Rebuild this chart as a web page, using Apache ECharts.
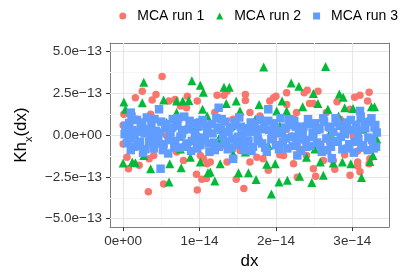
<!DOCTYPE html>
<html>
<head>
<meta charset="utf-8">
<script src="https://cdn.jsdelivr.net/npm/echarts@6/dist/echarts.min.js"></script>
<style>
html, body { margin: 0; padding: 0; background: #fff; }
#chart { width: 419px; height: 275px; }
</style>
</head>
<body>
<div id="chart"></div>
<script>
// dx in units of 1e-14, Kh_x(dx) in units of 1e-13
var seriesNames = ['MCA run 1', 'MCA run 2', 'MCA run 3'];
var seriesColors = ['#F8766D', '#00BA38', '#619CFF'];

var xTickValues = [0, 1, 2, 3];
var xTickLabels = ['0e+00', '1e\u221214', '2e\u221214', '3e\u221214'];
var xMinorValues = [0.5, 1.5, 2.5];
var yTickValues = [-5, -2.5, 0, 2.5, 5];
var yTickLabels = ['\u22125.0e\u221213', '\u22122.5e\u221213', '0.0e+00', '2.5e\u221213', '5.0e\u221213'];
var yMinorValues = [-3.75, -1.25, 1.25, 3.75];

var run1 = [
  [0.51, 3.50], [0.25, 2.62], [0.16, 2.23], [0.43, 2.42], [0.38, 2.09], [0.33, -3.39], [0.53, -2.93],
  [0.97, -3.29], [0.96, -2.34], [1.03, -2.64], [1.09, -2.60], [1.23, 2.38], [1.32, 2.38], [1.36, 2.62],
  [0.84, 2.32], [1.48, -2.64], [1.58, -3.19], [1.60, 2.07], [1.60, 2.42], [1.90, -2.11], [1.97, 2.23],
  [2.00, 2.32], [1.92, 2.03], [2.14, 2.52], [2.37, 2.52], [2.41, 2.68], [2.55, 2.62], [2.28, -2.52],
  [2.52, -2.46], [2.49, -2.01], [2.77, -2.05], [2.97, -2.40], [3.10, -2.20], [3.07, -1.85], [3.07, -1.61],
  [3.03, 2.26], [3.10, 2.38], [3.22, 2.56], [3.20, 2.03], [3.22, -1.71], [3.23, -1.42], [0.01, 1.24],
  [0.00, 0.59], [0.00, -0.53], [0.05, -1.32], [0.07, -2.01], [0.21, -1.81], [0.40, -1.22], [0.34, -1.42],
  [2.44, 1.89], [2.49, 1.89], [2.80, 1.99], [2.97, 1.54], [2.31, -0.83], [2.40, -1.22], [2.75, -1.52],
  [2.90, -1.18], [2.10, -1.22], [2.05, -1.18], [1.83, -1.42], [1.75, -1.32], [1.14, -1.61], [1.10, -1.71],
  [1.05, -1.42], [1.01, -1.22], [0.60, 2.03], [0.68, 2.13], [0.75, 1.73], [0.83, 1.63], [0.10, 0.35],
  [0.18, 0.95], [0.57, -0.04], [0.70, 0.55], [0.88, -0.43], [1.14, 0.65], [1.27, -0.73], [1.44, 0.95],
  [1.57, -0.63], [1.68, 0.35], [1.79, 1.14], [1.97, -0.24], [2.14, 0.35], [2.23, 0.98], [2.36, -0.24],
  [2.53, 0.55], [2.70, -0.43], [2.84, 0.95], [3.01, -0.04], [3.18, 0.75], [3.27, -0.63], [0.36, 1.24],
  [1.20, 1.34], [1.66, 1.34], [2.27, 1.34], [2.66, 1.34], [0.79, -1.52], [1.36, -1.61], [1.66, -1.61],
  [2.23, -1.71], [2.62, -1.52], [0.70, -1.02], [1.53, -0.93], [3.07, -0.96], [2.14, 1.83], [0.97, 2.03]
];

var run2 = [
  [1.84, 4.06], [2.65, 4.09], [1.94, -3.52], [0.27, 3.15], [0.90, 3.25], [1.01, 2.97], [1.05, 2.56],
  [1.32, 2.85], [1.39, 2.85], [2.20, 3.11], [2.30, 2.91], [2.49, 2.48], [2.83, 2.46], [2.88, 2.26],
  [0.60, -2.80], [2.04, -2.80], [2.15, -2.70], [2.47, -2.84], [3.12, -2.54], [1.74, -2.66], [1.20, -2.74],
  [1.11, -2.25], [1.14, -2.21], [1.51, -2.26], [1.64, -2.25], [2.31, -2.46], [2.62, -2.40], [0.00, -1.67],
  [0.12, -1.61], [0.16, -1.65], [0.36, -2.01], [0.76, -1.95], [0.61, -1.71], [1.01, -1.61], [1.27, -1.71],
  [1.88, -1.75], [1.99, -1.71], [2.58, -1.61], [2.75, -1.67], [2.87, -1.61], [2.98, -1.71], [3.23, -1.58],
  [3.27, -1.22], [0.01, 1.97], [0.03, 1.54], [0.25, 1.93], [0.53, 2.09], [0.70, 2.03], [0.78, 2.03],
  [0.86, 2.07], [1.04, 1.54], [1.35, 1.89], [1.48, 2.03], [1.78, 1.83], [2.01, 1.44], [2.08, 2.03],
  [2.35, 1.69], [2.55, 1.89], [2.68, 1.54], [2.90, 1.63], [3.01, 1.58], [3.25, 1.69], [3.29, 1.69],
  [0.14, 0.95], [0.23, 0.35], [0.40, -0.43], [0.57, 0.75], [0.75, -0.83], [0.94, 0.35], [1.10, 1.14],
  [1.25, -0.24], [1.42, 0.55], [1.60, -1.02], [1.73, 0.95], [1.90, -0.63], [2.05, 0.55], [2.21, -0.04],
  [2.40, 0.85], [2.51, -0.83], [2.71, 0.16], [2.82, 1.14], [2.95, -0.53], [3.14, 0.35], [3.32, -0.24],
  [0.27, -1.22], [0.88, -1.32], [1.44, -1.12], [2.40, -1.32], [2.14, 1.44], [1.53, 1.44], [0.70, 1.34],
  [3.10, 1.04], [1.79, -0.24], [1.36, -0.43]
];

var run3 = [
  [0.47, 1.54], [0.49, -2.01], [1.25, 1.63], [1.90, 1.54], [1.44, -1.42], [2.28, -1.22], [2.73, -1.38],
  [3.10, 1.44], [0.10, 1.34],
  [0.02, 0.05], [0.05, -0.48], [0.08, 0.72], [0.10, -0.90], [0.12, 0.30], [0.15, -0.20], [0.18, 0.90],
  [0.20, -0.65], [0.23, 0.45], [0.26, -1.05], [0.28, 0.10], [0.31, 1.05], [0.34, -0.40], [0.37, 0.60],
  [0.40, -0.80], [0.43, 0.25], [0.46, -0.15], [0.50, 0.80], [0.53, -0.55], [0.56, 0.40], [0.59, -1.10],
  [0.62, 0.15], [0.65, 0.95], [0.68, -0.35], [0.71, 0.55], [0.74, -0.75], [0.77, 0.05], [0.80, 1.10],
  [0.83, -0.50], [0.86, 0.35], [0.89, -0.95], [0.92, 0.70], [0.95, -0.10], [0.98, 0.50], [1.01, -0.60],
  [1.04, 0.90], [1.07, -0.30], [1.10, 0.20], [1.13, -1.00], [1.16, 0.65], [1.19, -0.45], [1.22, 1.00],
  [1.25, -0.70], [1.28, 0.30], [1.31, -0.05], [1.34, 0.80], [1.37, -0.85], [1.40, 0.45], [1.43, -0.25],
  [1.46, 0.60], [1.49, -0.60], [1.52, 1.05], [1.55, 0.00], [1.58, -0.90], [1.61, 0.40], [1.64, -0.35],
  [1.67, 0.75], [1.70, -0.70], [1.73, 0.20], [1.76, -0.15], [1.79, 0.90], [1.82, -0.50], [1.85, 0.50],
  [1.88, -1.00], [1.91, 0.30], [1.94, -0.25], [1.97, 0.70], [2.00, -0.60], [2.03, 0.10], [2.06, 1.00],
  [2.09, -0.40], [2.12, 0.45], [2.15, -0.80], [2.18, 0.60], [2.21, -0.10], [2.24, 0.85], [2.27, -0.55],
  [2.30, 0.25], [2.33, -0.95], [2.36, 0.50], [2.39, -0.30], [2.42, 0.95], [2.45, -0.65], [2.48, 0.15],
  [2.51, 0.70], [2.54, -0.45], [2.57, 0.35], [2.60, -1.00], [2.63, 0.80], [2.66, -0.20], [2.69, 0.50],
  [2.72, -0.70], [2.75, 0.20], [2.78, 1.00], [2.81, -0.40], [2.84, 0.55], [2.87, -0.85], [2.90, 0.05],
  [2.93, 0.75], [2.96, -0.55], [2.99, 0.30], [3.02, -1.05], [3.05, 0.60], [3.08, -0.25], [3.11, 1.10],
  [3.14, -0.60], [3.17, 0.40], [3.20, -0.90], [3.23, 0.80], [3.26, -0.30], [3.29, 0.45], [3.31, -0.70],
  [3.32, 0.15],
  [0.03, 0.55], [0.07, -0.15], [0.11, 1.10], [0.14, -0.70], [0.19, 0.20], [0.22, -0.40], [0.25, 0.75],
  [0.29, -0.85], [0.33, 0.35], [0.36, -0.05], [0.41, 0.95], [0.44, -0.50], [0.48, 0.15], [0.52, -0.90],
  [0.55, 0.65], [0.60, -0.30], [0.64, 0.45], [0.67, -0.75], [0.72, 1.00], [0.75, -0.10], [0.79, 0.30],
  [0.82, -0.70], [0.87, 0.85], [0.90, -0.35], [0.94, 0.10], [0.97, -0.80], [1.00, 0.75], [1.05, -0.15],
  [1.09, 0.55], [1.12, -0.50], [1.17, 0.10], [1.20, -0.90], [1.24, 0.45], [1.29, 0.95], [1.33, -0.40],
  [1.38, 0.20], [1.42, -0.75], [1.47, 0.80], [1.50, -0.10], [1.54, 0.50], [1.59, -0.45], [1.63, 0.15],
  [1.68, -0.95], [1.72, 0.65], [1.77, -0.35], [1.81, 0.35], [1.86, -0.75], [1.90, 0.85], [1.95, -0.05],
  [1.99, 0.45], [2.04, -0.85], [2.08, 0.25], [2.13, -0.20], [2.17, 0.95], [2.22, -0.65], [2.26, 0.50],
  [2.31, -0.25], [2.35, 0.10], [2.40, -0.70], [2.44, 0.65], [2.49, -0.10], [2.53, 0.30], [2.58, -0.60],
  [2.62, 1.00], [2.67, -0.90], [2.71, 0.45], [2.76, -0.35], [2.80, 0.75], [2.85, -0.10], [2.89, 0.40],
  [2.94, -0.80], [2.98, 0.90], [3.03, -0.40], [3.07, 0.25], [3.12, -0.75], [3.16, 0.75], [3.21, -0.15],
  [3.25, 1.00], [3.28, -0.80], [3.30, 0.60]
];

function gridLines() {
  var lines = [];
  xMinorValues.forEach(function (v) { lines.push({ xAxis: v, lineStyle: { color: '#f5f5f5', width: 1, type: 'solid' } }); });
  yMinorValues.forEach(function (v) { lines.push({ yAxis: v, lineStyle: { color: '#f5f5f5', width: 1, type: 'solid' } }); });
  xTickValues.forEach(function (v) { lines.push({ xAxis: v, lineStyle: { color: '#e6e6e6', width: 1.2, type: 'solid' } }); });
  yTickValues.forEach(function (v) { lines.push({ yAxis: v, lineStyle: { color: '#e6e6e6', width: 1.2, type: 'solid' } }); });
  return lines;
}

function frameAxis(extra) {
  var a = {
    type: 'value',
    axisLine: { show: true, onZero: false, lineStyle: { color: '#7f7f7f', width: 1 } },
    axisTick: { show: false },
    axisLabel: { show: false },
    splitLine: { show: false }
  };
  for (var k in extra) a[k] = extra[k];
  return a;
}

function drawChart() {
  var font = 'Liberation Sans, Arial, sans-serif';
  var option = {
    animation: false,
    textStyle: { fontFamily: font },
    legend: {
      data: [
        { name: seriesNames[0], icon: 'circle' },
        { name: seriesNames[1], icon: 'triangle' },
        { name: seriesNames[2], icon: 'rect' }
      ],
      top: 4,
      right: 16,
      itemWidth: 7,
      itemHeight: 7,
      itemGap: 12,
      textStyle: { fontSize: 14, color: '#000', fontFamily: font, padding: [0, 0, 0, 6] }
    },
    grid: { left: 110, right: 30, top: 43, bottom: 46 },
    xAxis: [
      {
        type: 'value',
        min: -0.172, max: 3.48,
        name: 'dx',
        nameLocation: 'middle',
        nameGap: 23,
        nameTextStyle: { fontSize: 17, color: '#000', fontFamily: font },
        axisLine: { show: true, onZero: false, lineStyle: { color: '#7f7f7f', width: 1 } },
        splitLine: { show: false },
        axisTick: { show: true, customValues: xTickValues, length: 4, lineStyle: { color: '#333' } },
        axisLabel: {
          customValues: xTickValues, fontSize: 13.5, color: '#333', margin: 7,
          formatter: function (v) { return xTickLabels[xTickValues.indexOf(v)]; }
        }
      },
      frameAxis({ position: 'top', min: -0.172, max: 3.48 })
    ],
    yAxis: [
      {
        type: 'value',
        min: -5.5, max: 5.5,
        name: 'Kh{sub|x}(dx)',
        nameLocation: 'middle',
        nameGap: 71,
        nameTextStyle: {
          fontSize: 17, color: '#000', fontFamily: font,
          rich: { sub: { fontSize: 11, color: '#000', verticalAlign: 'bottom', padding: [0, 0, -4, 0] } }
        },
        axisLine: { show: true, onZero: false, lineStyle: { color: '#7f7f7f', width: 1 } },
        splitLine: { show: false },
        axisTick: { show: true, customValues: yTickValues, length: 4, lineStyle: { color: '#333' } },
        axisLabel: {
          customValues: yTickValues, fontSize: 13.5, color: '#333', margin: 8,
          formatter: function (v) { return yTickLabels[yTickValues.indexOf(v)]; }
        }
      },
      frameAxis({ position: 'right', min: -5.5, max: 5.5 })
    ],
    series: [
      {
        name: 'grid', type: 'scatter', data: [[1.5, 0]], symbolSize: 0, z: 1, silent: true,
        itemStyle: { opacity: 0 },
        markLine: { silent: true, symbol: 'none', label: { show: false }, animation: false, z: 1, data: gridLines() }
      },
      { name: seriesNames[0], type: 'scatter', symbol: 'circle', symbolSize: 7.5, z: 2,
        itemStyle: { color: seriesColors[0], opacity: 1 }, data: run1 },
      { name: seriesNames[1], type: 'scatter', symbol: 'triangle', symbolSize: 9, z: 3,
        itemStyle: { color: seriesColors[1], opacity: 1 }, data: run2 },
      { name: seriesNames[2], type: 'scatter', symbol: 'rect', symbolSize: 8.5, z: 4,
        itemStyle: { color: seriesColors[2], opacity: 1 }, data: run3 }
    ]
  };

  var myChart = echarts.init(document.getElementById('chart'));
  myChart.setOption(option, true);
}

drawChart();
</script>
</body>
</html>
